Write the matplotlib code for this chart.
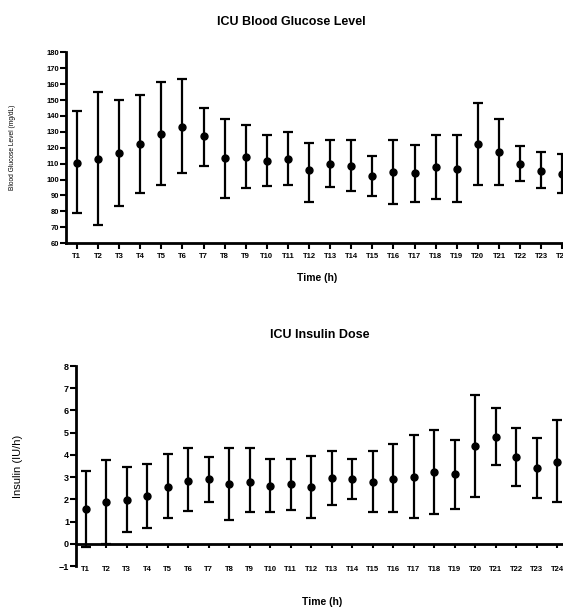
import matplotlib.pyplot as plt
import numpy as np

plt.rcParams['font.family'] = ['Liberation Sans', 'DejaVu Sans']
plt.rcParams['font.weight'] = 'bold'

# time points
labels = ["T" + str(i) for i in range(1, 25)]

# blood glucose (mg/dL): mean, upper and lower ends of the error bars
glu_mean = [110.7, 113.2, 116.7, 122.6, 128.9, 133.0, 127.2, 113.6, 114.0, 111.5, 112.8, 105.9,
            110.0, 108.4, 102.3, 104.6, 104.2, 108.0, 106.9, 122.6, 117.2, 110.0, 105.5, 103.4]
glu_hi = [143.0, 155.0, 149.7, 153.3, 161.6, 163.3, 145.1, 138.0, 134.5, 128.2, 129.9, 123.2,
          125.1, 124.7, 114.7, 124.7, 121.5, 128.2, 128.0, 148.3, 137.8, 120.9, 117.4, 116.3]
glu_lo = [78.8, 71.4, 83.5, 91.3, 96.5, 104.4, 108.4, 88.1, 94.4, 96.0, 96.3, 86.1,
          95.4, 92.7, 89.6, 84.6, 86.1, 87.7, 85.6, 96.3, 96.3, 99.2, 94.4, 91.3]

# insulin dose (IU/h)
ins_mean = [1.57, 1.90, 1.97, 2.17, 2.57, 2.84, 2.90, 2.68, 2.80, 2.62, 2.67, 2.57,
            2.97, 2.90, 2.77, 2.91, 3.02, 3.21, 3.12, 4.41, 4.81, 3.89, 3.39, 3.69]
ins_hi = [3.29, 3.77, 3.45, 3.59, 4.04, 4.29, 3.92, 4.29, 4.29, 3.80, 3.80, 3.95,
          4.17, 3.80, 4.17, 4.51, 4.89, 5.14, 4.66, 6.68, 6.13, 5.22, 4.77, 5.59]
ins_lo = [-0.15, 0.0, 0.54, 0.69, 1.15, 1.49, 1.88, 1.05, 1.41, 1.45, 1.52, 1.15,
          1.75, 2.00, 1.41, 1.41, 1.15, 1.35, 1.57, 2.12, 3.54, 2.62, 2.05, 1.87]

x = np.arange(1, 25)

fig = plt.figure(figsize=(5.63, 6.08), dpi=100)


def draw(ax, mean, hi, lo):
    mean = np.array(mean)
    err = [mean - np.array(lo), np.array(hi) - mean]
    ax.errorbar(x, mean, yerr=err, fmt="o", color="black", ms=5,
                elinewidth=1.6, capsize=3.5, capthick=1.6)
    for s in ["top", "right"]:
        ax.spines[s].set_visible(False)
    for s in ["left", "bottom"]:
        ax.spines[s].set_linewidth(2)
    ax.set_xticks(x)
    ax.set_xticklabels(labels)


# --- top: glucose ---
ax1 = fig.add_axes([0.117, 0.600, 0.883, 0.314])
draw(ax1, glu_mean, glu_hi, glu_lo)
ax1.set_xlim(0.48, 24.03)
ax1.set_ylim(60, 180)
ax1.set_yticks(np.arange(60, 181, 10))
ax1.tick_params(axis="y", labelsize=5.5, width=1.5, length=4, pad=1)
ax1.tick_params(axis="x", labelsize=5.5, width=1.5, length=4, pad=3)
ax1.set_ylabel("Blood Glucose Level (mg/dL)", fontsize=4.8, labelpad=22)
fig.text(0.517, 0.964, "ICU Blood Glucose Level", ha="center", va="center",
         fontsize=9, fontweight="bold")
fig.text(0.563, 0.542, "Time (h)", ha="center", va="center", fontsize=7.5,
         fontweight="bold")

# --- bottom: insulin ---
ax2 = fig.add_axes([0.135, 0.069, 0.865, 0.329])
draw(ax2, ins_mean, ins_hi, ins_lo)
ax2.spines["bottom"].set_position(("data", 0))
ax2.set_xlim(0.53, 24.28)
ax2.set_ylim(-1, 8)
ax2.set_yticks(np.arange(-1, 9, 1))
ax2.tick_params(axis="y", labelsize=6.5, width=1.5, length=4, pad=1)
ax2.tick_params(axis="x", labelsize=5.5, width=1.5, length=3, pad=13)
ax2.set_ylabel("Insulin (IU/h)", fontsize=8, labelpad=26)
fig.text(0.568, 0.449, "ICU Insulin Dose", ha="center", va="center",
         fontsize=9, fontweight="bold")
fig.text(0.572, 0.010, "Time (h)", ha="center", va="center", fontsize=7.5,
         fontweight="bold")

fig.savefig("out.png", dpi=100)
